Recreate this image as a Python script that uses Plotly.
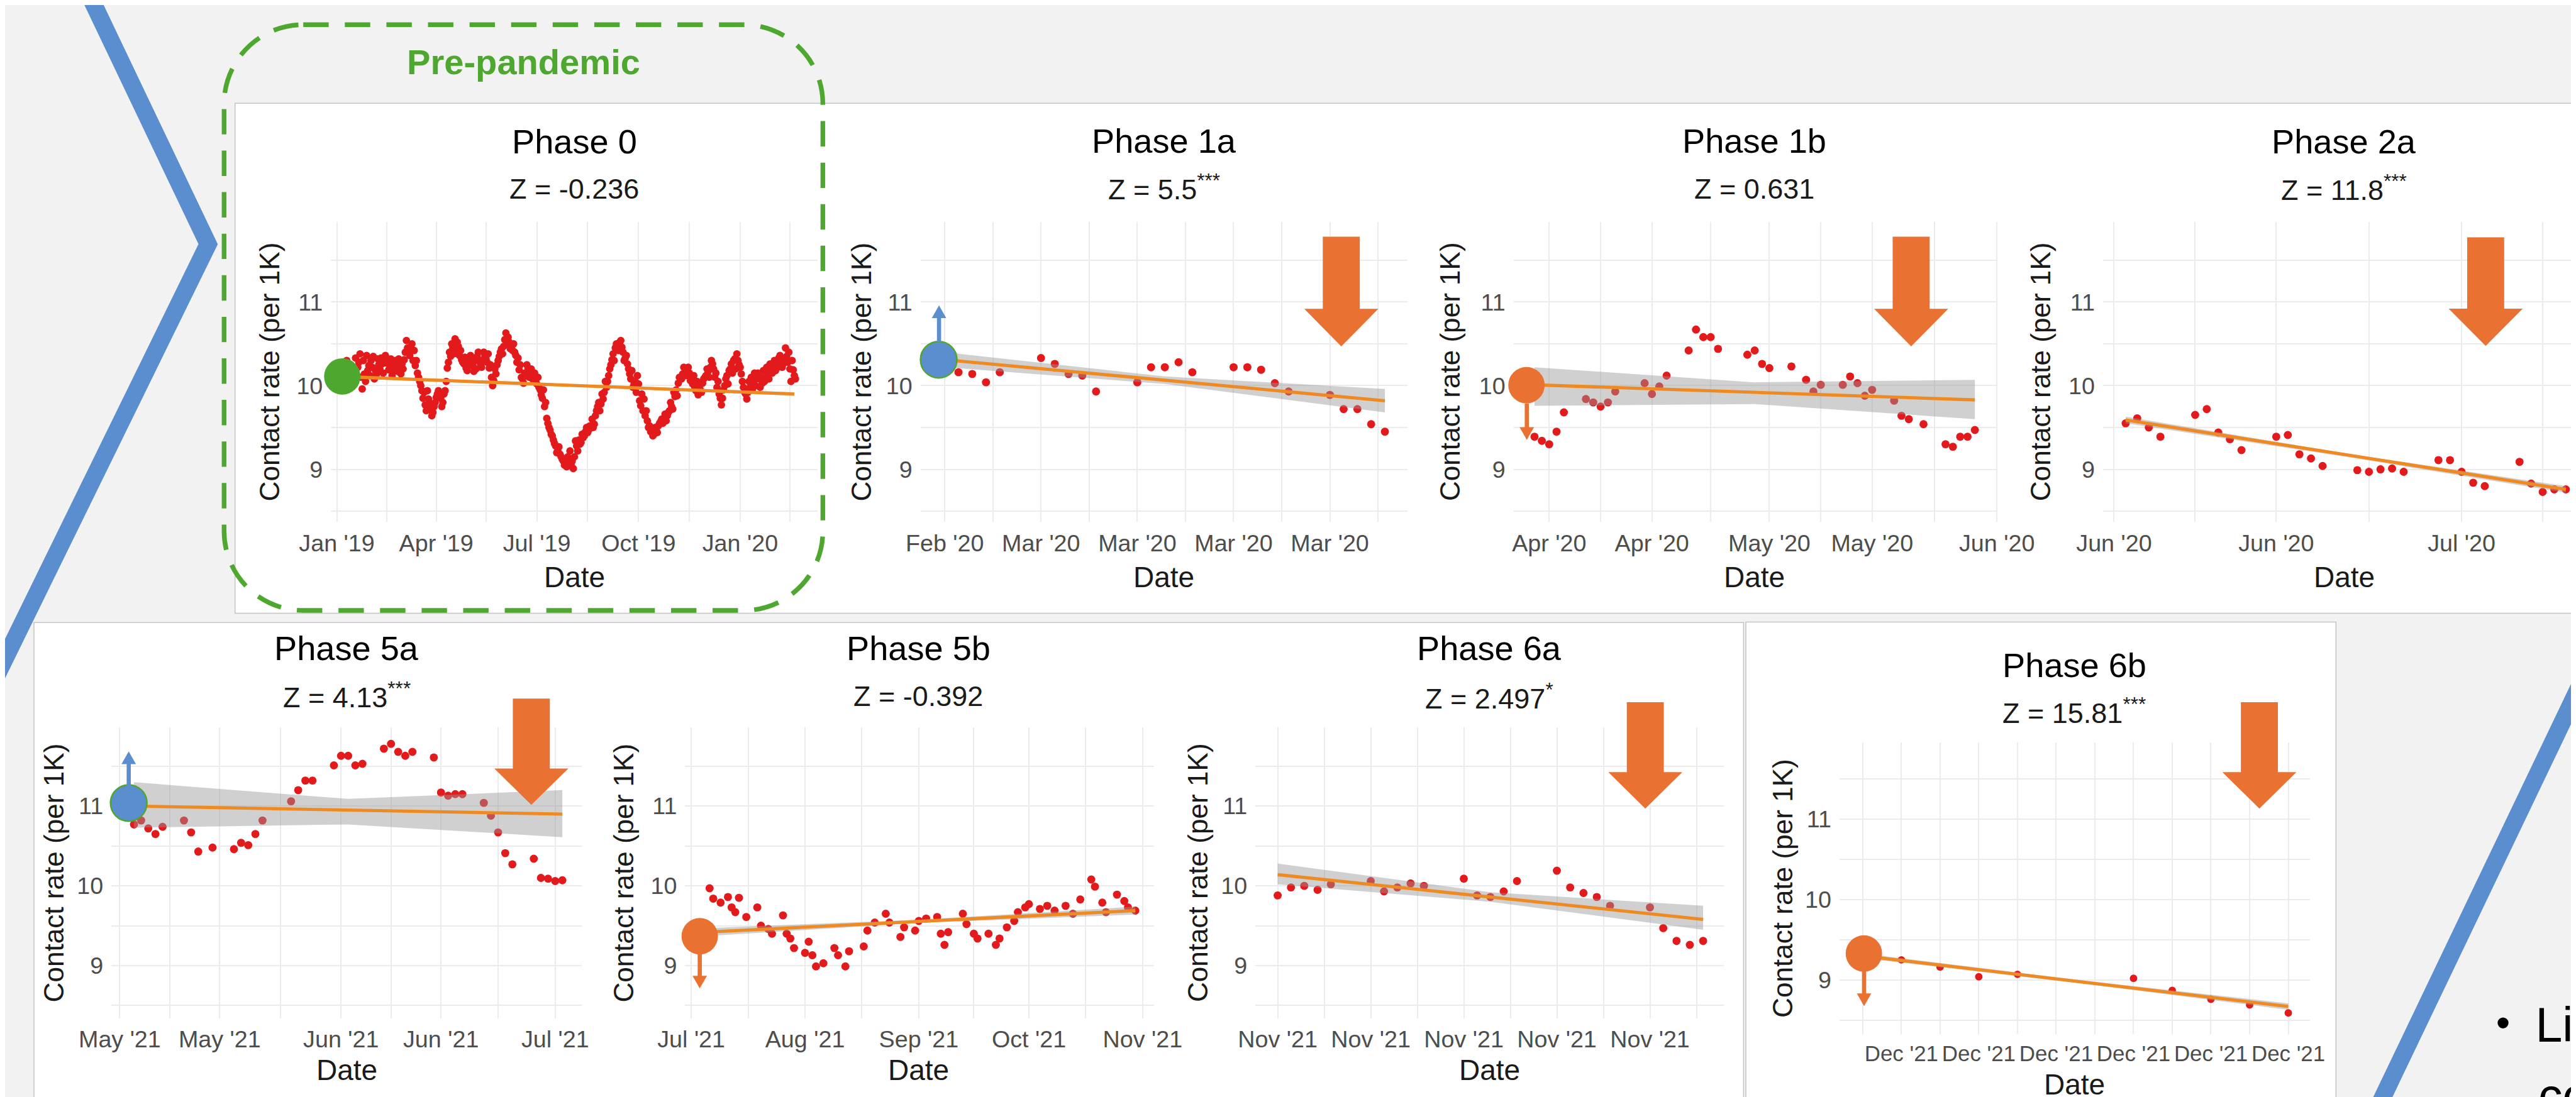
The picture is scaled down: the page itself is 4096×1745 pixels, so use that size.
import pandas as pd
import plotly.graph_objects as go

W_REF, H_REF = 4457.0, 1899.0
S = 4096.0 / W_REF
FONT = "Liberation Sans, Arial, Helvetica, sans-serif"

def X(px): return px / W_REF
def Y(py): return 1.0 - py / H_REF
def F(px): return round(px * S, 1)

RED = "#e31a1c"; FITC = "#ef8a22"; BAND = "rgba(150,150,150,0.45)"
GRID = "#ebebeb"; ORANGE = "#e97132"; BLUE = "#5b8ecf"; GREEN = "#4ea72e"
BG = "#f2f2f2"; TICKC = "#4d4d4d"; TXT = "#1a1a1a"

# ---------------- data (days are offsets from each phase's start date) ----------------
p0_start = "2019-01-01"
p0_days = [2, 4, 5, 7, 9, 11, 14, 17, 19, 21, 23, 25, 27, 29, 31, 34, 36, 38, 40, 43, 45, 47, 50, 52, 54, 57,
           59, 61, 63, 65, 67, 70, 71, 73, 75, 77, 80, 82, 84, 86, 89, 92, 94, 96, 98, 100, 103, 105, 107, 110,
           113, 115, 117, 120, 122, 124, 127, 130, 132, 134, 136, 138, 141, 144, 146, 148, 151, 153, 156, 158,
           161, 163, 164, 165, 167, 169, 171, 173, 175, 178, 180, 182, 185, 187, 189, 190, 193, 195, 197, 199,
           201, 203, 205, 206, 208, 210, 211, 212, 214, 216, 218, 220, 223, 225, 228, 230, 233, 236, 238, 241,
           244, 246, 249, 252, 254, 257, 259, 261, 263, 265, 268, 270, 272, 274, 276, 278, 279, 281, 283, 286,
           289, 291, 293, 296, 299, 301, 303, 306, 309, 311, 313, 315, 317, 319, 321, 324, 327, 329, 331, 333,
           336, 338, 340, 343, 345, 348, 350, 352, 355, 357, 360, 362, 364, 366, 368, 371, 374, 377, 380, 382,
           385, 388, 390, 393, 395, 398, 400, 402, 404, 407, 409, 411, 413, 415,
           16, 18, 20, 22, 24, 26, 28, 30, 32, 33, 35, 37, 39, 41, 42, 44, 46, 48, 49, 51, 53, 55, 56, 58, 60,
           62, 64, 66, 68, 69, 72, 74, 76, 78, 79, 81, 83, 85, 87, 88, 90, 91, 93, 95, 97, 99, 101, 102, 104,
           106, 108, 109, 111, 112, 114, 116, 118, 119, 121, 123, 125, 126, 128, 129, 131, 133, 135, 137, 139,
           140, 142, 143, 145, 147, 149, 150, 152, 154, 155, 157, 159, 160, 162, 166, 168, 170, 172, 174, 176,
           177, 179, 181, 183, 184, 186, 188, 191, 192, 194, 196, 198, 200, 202, 204, 207, 209, 213, 215, 217,
           219, 221, 222, 224, 226, 227, 229, 231, 232, 234, 235, 237, 239, 240, 242, 243, 245, 247, 248, 250,
           251, 253, 255, 256, 258, 260, 262, 264, 266, 267, 269, 271, 273, 275, 277, 280, 282, 284, 285, 287,
           288, 290, 292, 294, 295, 297, 298, 300, 302, 304, 305, 307, 308, 310, 312, 314, 316, 318, 320, 322,
           323, 325, 326, 328, 330, 332, 334, 335, 337, 339, 341, 342, 344, 346, 347, 349, 351, 353, 354, 356,
           358, 359, 361, 363, 365, 367, 369, 370, 372, 373, 375, 376, 378, 379, 381, 383, 384, 386, 387, 389,
           391, 392, 394, 396, 397, 399, 401, 403, 405, 406, 408, 410, 412, 414]
p0_vals = [10.15, 10.25, 10.28, 10.05, 10.30, 10.20, 10.10, 10.33, 10.22, 10.38, 9.96, 10.14, 10.36, 10.24,
           10.30, 10.08, 10.14, 10.25, 10.33, 10.33, 10.27, 10.19, 10.12, 10.18, 10.24, 10.21, 10.26, 10.31,
           10.54, 10.40, 10.47, 10.42, 10.24, 10.15, 10.05, 9.94, 9.77, 9.94, 9.72, 9.64, 9.80, 9.94, 9.85,
           9.80, 9.94, 10.21, 10.35, 10.45, 10.56, 10.47, 10.31, 10.26, 10.21, 10.31, 10.24, 10.17, 10.35,
           10.26, 10.30, 10.35, 10.28, 10.21, 10.00, 10.14, 10.30, 10.40, 10.47, 10.63, 10.52, 10.47, 10.40,
           10.28, 10.33, 10.19, 10.10, 10.03, 10.12, 10.21, 10.18, 10.14, 10.05, 10.10, 9.89, 9.95, 9.80,
           9.61, 9.47, 9.40, 9.31, 9.20, 9.27, 9.15, 9.10, 9.05, 9.03, 9.12, 9.22, 9.06, 9.01, 9.34, 9.22,
           9.30, 9.38, 9.45, 9.47, 9.50, 9.54, 9.75, 9.70, 9.84, 9.98, 10.12, 10.31, 10.45, 10.48, 10.54,
           10.40, 10.33, 10.26, 10.14, 9.98, 10.05, 10.12, 9.82, 9.90, 9.84, 9.64, 9.58, 9.52, 9.40, 9.47,
           9.52, 9.57, 9.61, 9.64, 9.70, 9.75, 9.87, 10.03, 10.08, 10.14, 10.16, 10.19, 10.15, 10.10, 9.98,
           9.89, 9.95, 10.03, 10.10, 10.17, 10.22, 10.26, 10.15, 10.05, 9.77, 9.95, 10.08, 10.18, 10.26,
           10.32, 10.38, 10.25, 10.14, 9.98, 9.84, 9.98, 10.05, 10.12, 10.08, 10.03, 10.10, 10.14, 10.20,
           10.24, 10.28, 10.33, 10.30, 10.26, 10.35, 10.40, 10.05, 10.19, 10.08,
           10.20, 10.12, 10.28, 10.10, 10.30, 10.05, 10.18, 10.12, 10.22, 10.35, 10.18, 10.32, 10.20, 10.26,
           10.15, 10.36, 10.30, 10.24, 10.32, 10.26, 10.30, 10.17, 10.32, 10.14, 10.20, 10.40, 10.45, 10.36,
           10.50, 10.30, 10.30, 10.10, 10.00, 9.85, 9.92, 9.70, 9.84, 9.78, 9.68, 9.75, 9.86, 9.90, 9.88,
           9.75, 9.90, 10.05, 10.28, 10.40, 10.50, 10.38, 10.44, 10.52, 10.36, 10.42, 10.28, 10.34, 10.18,
           10.27, 10.36, 10.25, 10.30, 10.20, 10.40, 10.30, 10.22, 10.40, 10.32, 10.38, 10.25, 10.10, 10.06,
           10.20, 10.25, 10.35, 10.44, 10.38, 10.55, 10.50, 10.58, 10.44, 10.42, 10.50, 10.36, 10.25, 10.08,
           10.15, 10.25, 10.10, 10.20, 10.08, 10.15, 10.02, 9.98, 9.95, 9.85, 9.75, 9.55, 9.50, 9.42, 9.35,
           9.28, 9.22, 9.18, 9.12, 9.08, 9.15, 9.10, 9.15, 9.28, 9.35, 9.32, 9.42, 9.40, 9.50, 9.44, 9.52,
           9.60, 9.50, 9.64, 9.70, 9.80, 9.78, 9.90, 9.92, 10.05, 10.05, 10.20, 10.25, 10.38, 10.30, 10.50,
           10.42, 10.52, 10.46, 10.30, 10.36, 10.20, 10.08, 10.18, 10.02, 9.92, 10.02, 9.76, 9.70, 9.70, 9.50,
           9.45, 9.48, 9.42, 9.50, 9.44, 9.55, 9.60, 9.55, 9.66, 9.58, 9.68, 9.80, 9.72, 9.92, 9.95, 9.88,
           10.10, 10.08, 10.22, 10.12, 10.22, 10.06, 10.02, 10.12, 9.94, 10.05, 9.98, 9.92, 10.08, 10.12,
           10.20, 10.10, 10.30, 10.20, 10.10, 9.98, 9.90, 9.85, 9.85, 10.00, 10.12, 10.02, 10.20, 10.15,
           10.30, 10.20, 10.30, 10.22, 10.05, 9.92, 9.90, 9.92, 10.05, 10.10, 9.95, 10.15, 10.00, 10.15, 9.98,
           10.10, 10.18, 10.05, 10.22, 10.08, 10.26, 10.15, 10.30, 10.18, 10.22, 10.36, 10.22, 10.30, 10.45,
           10.28, 10.20, 10.30, 10.12]
p0_fit_days = [3, 414]
p0_fit_vals = [10.11, 9.90]
p0_band_days = [3, 209, 414]
p0_band_lo = [10.09, 9.99, 9.88]
p0_band_hi = [10.13, 10.02, 9.92]
p0_ticks = ["2019-01-01", "2019-04-01", "2019-07-01", "2019-10-01", "2020-01-01"]
p0_ticktext = ["Jan '19", "Apr '19", "Jul '19", "Oct '19", "Jan '20"]
p0_minor = ["2019-02-15", "2019-05-16", "2019-08-16", "2019-11-16", "2020-02-15"]

p1a_start = "2020-02-24"
p1a_days = [0, 1, 2, 3, 4, 7, 8, 9, 10, 11, 14, 15, 16, 17, 18, 21, 22, 23, 24, 25, 28, 29, 30, 31, 32]
p1a_vals = [10.30, 10.16, 10.14, 10.04, 10.16, 10.33, 10.26, 10.14, 10.12, 9.93, 10.04, 10.22, 10.22, 10.28,
            10.16, 10.22, 10.22, 10.19, 10.03, 9.93, 9.89, 9.72, 9.72, 9.54, 9.45]
p1a_fit_days = [0, 32]
p1a_fit_vals = [10.31, 9.82]
p1a_band_days = [0, 16, 32]
p1a_band_lo = [10.22, 10.02, 9.68]
p1a_band_hi = [10.40, 10.11, 9.96]
p1a_ticks = ["2020-02-24", "2020-03-02", "2020-03-09", "2020-03-16", "2020-03-23"]
p1a_ticktext = ["Feb '20", "Mar '20", "Mar '20", "Mar '20", "Mar '20"]
p1a_minor = ["2020-02-27 12:00", "2020-03-05 12:00", "2020-03-12 12:00", "2020-03-19 12:00", "2020-03-26 12:00"]

p1b_start = "2020-04-01"
p1b_days = [-2, -1, 0, 1, 2, 5, 6, 7, 8, 9, 13, 14, 15, 16, 19, 20, 21, 22, 23, 27, 28, 29, 30, 33, 35, 36, 37,
            40, 41, 42, 43, 44, 47, 48, 49, 51, 54, 55, 56, 57, 58]
p1b_vals = [9.39, 9.34, 9.30, 9.45, 9.68, 9.84, 9.80, 9.75, 9.80, 9.93, 10.03, 9.90, 9.99, 10.12, 10.42, 10.67,
            10.58, 10.58, 10.44, 10.37, 10.42, 10.26, 10.21, 10.23, 10.07, 9.93, 10.01, 10.01, 10.11, 10.03,
            9.88, 9.95, 9.82, 9.64, 9.60, 9.54, 9.30, 9.27, 9.39, 9.39, 9.47]
p1b_fit_days = [-2, 58]
p1b_fit_vals = [10.01, 9.83]
p1b_band_days = [-2, 28, 58]
p1b_band_lo = [9.76, 9.78, 9.60]
p1b_band_hi = [10.22, 10.04, 10.07]
p1b_ticks = ["2020-04-01", "2020-04-15", "2020-05-01", "2020-05-15", "2020-06-01"]
p1b_ticktext = ["Apr '20", "Apr '20", "May '20", "May '20", "Jun '20"]
p1b_minor = ["2020-04-08", "2020-04-23", "2020-05-08", "2020-05-23 12:00"]

p2a_start = "2020-06-01"
p2a_days = [1, 2, 3, 4, 7, 8, 9, 10, 11, 14, 15, 16, 17, 18, 21, 22, 23, 24, 25, 28, 29, 30, 31, 32, 35, 36,
            37, 38, 39]
p2a_vals = [9.55, 9.61, 9.50, 9.39, 9.65, 9.72, 9.44, 9.36, 9.23, 9.39, 9.41, 9.18, 9.13, 9.04, 8.99, 8.97,
            9.00, 9.01, 8.97, 9.11, 9.11, 8.97, 8.84, 8.80, 9.09, 8.83, 8.73, 8.76, 8.76]
p2a_fit_days = [1, 39]
p2a_fit_vals = [9.59, 8.76]
p2a_band_days = [1, 20, 39]
p2a_band_lo = [9.55, 9.15, 8.72]
p2a_band_hi = [9.63, 9.19, 8.80]
p2a_ticks = ["2020-06-01", "2020-06-15", "2020-07-01"]
p2a_ticktext = ["Jun '20", "Jun '20", "Jul '20"]
p2a_minor = ["2020-06-08", "2020-06-23", "2020-07-08"]

p5a_start = "2021-05-01"
p5a_days = [2, 3, 4, 5, 6, 9, 10, 11, 13, 16, 17, 18, 19, 20, 24, 25, 26, 27, 30, 31, 32, 33, 34, 37, 38, 39,
            40, 41, 44, 45, 46, 47, 48, 51, 52, 53, 54, 55, 58, 59, 60, 61, 62]
p5a_vals = [10.77, 10.82, 10.72, 10.65, 10.74, 10.82, 10.67, 10.43, 10.48, 10.46, 10.54, 10.51, 10.65, 10.82,
            11.06, 11.20, 11.32, 11.32, 11.51, 11.63, 11.63, 11.51, 11.53, 11.72, 11.78, 11.68, 11.63, 11.68,
            11.61, 11.17, 11.13, 11.15, 11.15, 11.04, 10.88, 10.67, 10.41, 10.27, 10.34, 10.10, 10.09, 10.06,
            10.07]
p5a_fit_days = [2, 62]
p5a_fit_vals = [11.00, 10.90]
p5a_band_days = [2, 32, 62]
p5a_band_lo = [10.73, 10.77, 10.61]
p5a_band_hi = [11.30, 11.09, 11.20]
p5a_ticks = ["2021-05-01", "2021-05-15", "2021-06-01", "2021-06-15", "2021-07-01"]
p5a_ticktext = ["May '21", "May '21", "Jun '21", "Jun '21", "Jul '21"]
p5a_minor = ["2021-05-08", "2021-05-23 12:00", "2021-06-08", "2021-06-23"]

p5b_start = "2021-07-01"
p5b_days = [5, 6, 8, 10, 11, 12, 13, 15, 18, 19, 21, 22, 25, 26, 27, 28, 31, 32, 33, 34, 36, 39, 40, 42, 43,
            47, 48, 50, 53, 54, 57, 58, 61, 62, 64, 67, 68, 69, 70, 74, 75, 77, 78, 81, 83, 84, 86, 88, 89, 91,
            92, 95, 97, 99, 102, 104, 106, 109, 110, 112, 113, 116, 118, 119, 121]
p5b_vals = [9.97, 9.84, 9.79, 9.86, 9.73, 9.67, 9.85, 9.61, 9.73, 9.50, 9.46, 9.40, 9.63, 9.40, 9.34, 9.22,
            9.16, 9.30, 9.13, 8.99, 9.03, 9.22, 9.13, 8.99, 9.18, 9.24, 9.44, 9.54, 9.65, 9.54, 9.36, 9.48,
            9.44, 9.56, 9.59, 9.61, 9.40, 9.26, 9.42, 9.65, 9.52, 9.40, 9.34, 9.40, 9.26, 9.34, 9.48, 9.56,
            9.67, 9.73, 9.77, 9.71, 9.75, 9.69, 9.75, 9.65, 9.83, 10.08, 9.99, 9.79, 9.67, 9.89, 9.81, 9.73,
            9.69]
p5b_fit_days = [4, 121]
p5b_fit_vals = [9.42, 9.69]
p5b_band_days = [4, 62, 121]
p5b_band_lo = [9.37, 9.535, 9.64]
p5b_band_hi = [9.47, 9.575, 9.74]
p5b_ticks = ["2021-07-01", "2021-08-01", "2021-09-01", "2021-10-01", "2021-11-01"]
p5b_ticktext = ["Jul '21", "Aug '21", "Sep '21", "Oct '21", "Nov '21"]
p5b_minor = ["2021-07-16 12:00", "2021-08-16 12:00", "2021-09-16", "2021-10-16 12:00"]

p6a_start = "2021-11-01"
p6a_days = [0, 1, 2, 3, 4, 7, 8, 9, 10, 11, 14, 15, 16, 17, 18, 21, 22, 23, 24, 25, 28, 29, 30, 31, 32]
p6a_vals = [9.88, 9.98, 10.00, 9.95, 10.02, 10.06, 9.93, 9.98, 10.03, 10.00, 10.09, 9.88, 9.86, 9.93, 10.06,
            10.19, 9.98, 9.91, 9.86, 9.75, 9.73, 9.47, 9.31, 9.26, 9.31]
p6a_fit_days = [0, 32]
p6a_fit_vals = [10.14, 9.58]
p6a_band_days = [0, 16, 32]
p6a_band_lo = [10.02, 9.80, 9.45]
p6a_band_hi = [10.28, 9.92, 9.75]
p6a_ticks = ["2021-11-01", "2021-11-08", "2021-11-15", "2021-11-22", "2021-11-29"]
p6a_ticktext = ["Nov '21"] * 5
p6a_minor = ["2021-11-04 12:00", "2021-11-11 12:00", "2021-11-18 12:00", "2021-11-25 12:00", "2021-12-02 12:00"]

p6b_start = "2021-12-07"
p6b_days = [-1, 0, 1, 2, 3, 6, 7, 8, 9, 10]
p6b_vals = [9.29, 9.25, 9.16, 9.04, 9.07, 9.02, 8.87, 8.76, 8.69, 8.59]
p6b_fit_days = [-1, 10]
p6b_fit_vals = [9.30, 8.67]
p6b_band_days = [-1, 4.5, 10]
p6b_band_lo = [9.27, 8.965, 8.63]
p6b_band_hi = [9.33, 9.005, 8.71]
p6b_ticks = ["2021-12-07", "2021-12-09", "2021-12-11", "2021-12-13", "2021-12-15", "2021-12-17"]
p6b_ticktext = ["Dec '21"] * 6
p6b_minor = ["2021-12-06", "2021-12-08", "2021-12-10", "2021-12-12", "2021-12-14", "2021-12-16"]

y_ticks = [9, 10, 11]
y_ticktext = ["9", "10", "11"]
y_minor = [8.5, 9.5, 10.5, 11.5]

titles = ["Phase 0", "Phase 1a", "Phase 1b", "Phase 2a", "Phase 5a", "Phase 5b", "Phase 6a", "Phase 6b"]
z_texts = ["Z = -0.236", "Z = 5.5<sup>***</sup>", "Z = 0.631", "Z = 11.8<sup>***</sup>",
           "Z = 4.13<sup>***</sup>", "Z = -0.392", "Z = 2.497<sup>*</sup>", "Z = 15.81<sup>***</sup>"]
slide_texts = ["•", "Lin", "co"]


def to_dates(start, days):
    base = pd.Timestamp(start)
    return [(base + pd.Timedelta(days=float(d))).strftime("%Y-%m-%d %H:%M:%S") for d in days]


def P(name):
    g = globals()
    keys = ["start", "days", "vals", "fit_days", "fit_vals", "band_days", "band_lo", "band_hi",
            "ticks", "ticktext", "minor"]
    return {k: g[f"{name}_{k}"] for k in keys}

# layout geometry (reference pixels): panel box, x-range offsets (days), y-range, text positions
R1 = (8.37, 11.96)
R2 = (8.34, 11.99)
R3 = (8.33, 11.95)
geo = [
    dict(box=(564, 1405.6, 375, 895), xr=(-5.23, 434.9), yr=R1, tx=985, ty=243, zy=325, dy=997, lx=458, ms=13, tf=41),
    dict(box=(1584, 2426, 375, 895), xr=(-1.76, 33.62), yr=R1, tx=2005, ty=242, zy=323, dy=997, lx=1481, ms=14, tf=41),
    dict(box=(2610, 3447.6, 375, 895), xr=(-4.86, 61.1), yr=R1, tx=3027, ty=242, zy=325, dy=997, lx=2500, ms=14, tf=41),
    dict(box=(3630, 4457, 375, 895), xr=(-0.95, 40.31), yr=R1, tx=4047, ty=243, zy=324, dy=997, lx=3522, ms=14, tf=41),
    dict(box=(184, 997.6, 1250, 1754), xr=(-1.17, 64.7), yr=R2, tx=591, ty=1120, zy=1202, dy=1850, lx=84, ms=14, tf=41),
    dict(box=(1176.8, 1987.7, 1250, 1754), xr=(-1.65, 126.05), yr=R2, tx=1580, ty=1120, zy=1204, dy=1850, lx=1070, ms=14, tf=41),
    dict(box=(2163.5, 2973.7, 1250, 1754), xr=(-1.67, 33.55), yr=R2, tx=2568, ty=1120, zy=1204, dy=1850, lx=2063, ms=14, tf=41),
    dict(box=(3174, 3988, 1277, 1781), xr=(-1.6, 10.56), yr=R3, tx=3580, ty=1150, zy=1229, dy=1875, lx=3075, ms=13, tf=38),
]
data = [P("p0"), P("p1a"), P("p1b"), P("p2a"), P("p5a"), P("p5b"), P("p6a"), P("p6b")]
TEXT_DY = -7  # plotly's "middle" anchor sits a little lower than the glyph centre

fig = go.Figure()
axes = {}
anns = []


def ann(text, x, y, size, color=TXT, angle=0, xanchor="center", bold=False):
    anns.append(dict(text=f"<b>{text}</b>" if bold else text, x=X(x), y=Y(y), xref="paper", yref="paper",
                     showarrow=False, xanchor=xanchor, yanchor="middle", textangle=angle,
                     font=dict(family=FONT, size=F(size), color=color)))


for i, (d, g) in enumerate(zip(data, geo), start=1):
    xa = "x" if i == 1 else f"x{i}"
    ya = "y" if i == 1 else f"y{i}"
    xl, xr, yt, yb = g["box"]
    fig.add_trace(go.Scatter(x=to_dates(d["start"], d["days"]), y=d["vals"], mode="markers",
                             marker=dict(color=RED, size=F(g["ms"]), line=dict(width=0)),
                             xaxis=xa, yaxis=ya, hoverinfo="skip", showlegend=False))
    bx = to_dates(d["start"], d["band_days"])
    fig.add_trace(go.Scatter(x=bx + bx[::-1], y=list(d["band_hi"]) + list(d["band_lo"])[::-1],
                             fill="toself", fillcolor=BAND, line=dict(width=0), mode="lines",
                             xaxis=xa, yaxis=ya, hoverinfo="skip", showlegend=False))
    fig.add_trace(go.Scatter(x=to_dates(d["start"], d["fit_days"]), y=d["fit_vals"], mode="lines",
                             line=dict(color=FITC, width=F(5.5)), xaxis=xa, yaxis=ya,
                             hoverinfo="skip", showlegend=False))
    xkey = "xaxis" if i == 1 else f"xaxis{i}"
    ykey = "yaxis" if i == 1 else f"yaxis{i}"
    axes[xkey] = dict(domain=[X(xl), min(1.0, X(xr))], anchor=ya, type="date", automargin=False,
                      range=to_dates(d["start"], g["xr"]), tickmode="array", tickvals=d["ticks"],
                      ticktext=d["ticktext"], tickangle=0, ticks="", showgrid=True, gridcolor=GRID,
                      gridwidth=2.2, zeroline=False, showline=False, ticklabelstandoff=8,
                      tickfont=dict(family=FONT, size=F(g["tf"]), color=TICKC),
                      minor=dict(tickmode="array", tickvals=d["minor"], showgrid=True, gridcolor=GRID,
                                 gridwidth=1.6, ticks=""), fixedrange=True)
    axes[ykey] = dict(domain=[Y(yb), Y(yt)], anchor=xa, range=list(g["yr"]), tickmode="array",
                      automargin=False, tickvals=y_ticks, ticktext=y_ticktext, ticks="", showgrid=True,
                      gridcolor=GRID, gridwidth=2.2, zeroline=False, showline=False, ticklabelstandoff=12,
                      tickfont=dict(family=FONT, size=F(41), color=TICKC),
                      minor=dict(tickmode="array", tickvals=y_minor, showgrid=True, gridcolor=GRID,
                                 gridwidth=1.6, ticks=""), fixedrange=True)
    ann(titles[i - 1], g["tx"], g["ty"] + TEXT_DY, 59, "#000000")
    ann(z_texts[i - 1], g["tx"], g["zy"] + TEXT_DY, 49)
    ann("Date", g["tx"], g["dy"] + TEXT_DY, 50)
    ann("Contact rate (per 1K)", g["lx"], (yt + yb) / 2, 48, angle=-90)

ann("Pre-pandemic", 897, 105 + TEXT_DY, 61, GREEN, bold=True)

# partial slide text at the bottom-right corner, clipped at the window edge like the slide crop
axes["xaxis9"] = dict(domain=[X(4150), 1.0], range=[4150, 4457], visible=False, fixedrange=True,
                      anchor="y9", automargin=False)
axes["yaxis9"] = dict(domain=[0.0, Y(1690)], range=[1899, 1690], visible=False, fixedrange=True,
                      anchor="x9", automargin=False)
fig.add_trace(go.Scatter(x=[4322], y=[1768], text=[slide_texts[0]], mode="text", textposition="middle center",
                         textfont=dict(family=FONT, size=F(70), color="#000000"), xaxis="x9", yaxis="y9",
                         cliponaxis=True, hoverinfo="skip", showlegend=False))
fig.add_trace(go.Scatter(x=[4378, 4383], y=[1773, 1897], text=slide_texts[1:], mode="text",
                         textposition="middle right", textfont=dict(family=FONT, size=F(84), color="#000000"),
                         xaxis="x9", yaxis="y9", cliponaxis=True, hoverinfo="skip", showlegend=False))


def path(points, close=True):
    s = "M " + " L ".join(f"{X(px):.6f},{Y(py):.6f}" for px, py in points)
    return s + (" Z" if close else "")

shapes = []
# blue slide lines (behind everything)
shapes.append(dict(type="path", path=path([(139.7, -30), (351.4, 414), (-15, 1162)], close=False),
                   xref="paper", yref="paper", line=dict(color=BLUE, width=F(30)), layer="below"))
shapes.append(dict(type="path", path=path([(4095.6, 1929), (4480, 1125.8)], close=False),
                   xref="paper", yref="paper", line=dict(color=BLUE, width=F(30)), layer="below"))
# white chart panels
for (x0, x1, y0, y1) in [(398, 4480, 170, 1053), (50, 3008, 1069, 1930), (3012, 4033, 1068, 1930)]:
    shapes.append(dict(type="rect", xref="paper", yref="paper", x0=X(x0), x1=X(x1), y0=Y(y1), y1=Y(y0),
                       fillcolor="#ffffff", line=dict(color="#c4c4c4", width=1.5), layer="below"))

# green dashed rounded box
bx0, bx1, by0, by1, r = 379, 1415, 34, 1048, 137
k = 0.5523 * r
def pt(px, py): return f"{X(px):.6f},{Y(py):.6f}"
rr = (f"M {pt(bx0 + r, by0)} L {pt(bx1 - r, by0)} C {pt(bx1 - r + k, by0)} {pt(bx1, by0 + r - k)} {pt(bx1, by0 + r)} "
      f"L {pt(bx1, by1 - r)} C {pt(bx1, by1 - r + k)} {pt(bx1 - r + k, by1)} {pt(bx1 - r, by1)} "
      f"L {pt(bx0 + r, by1)} C {pt(bx0 + r - k, by1)} {pt(bx0, by1 - r + k)} {pt(bx0, by1 - r)} "
      f"L {pt(bx0, by0 + r)} C {pt(bx0, by0 + r - k)} {pt(bx0 + r - k, by0)} {pt(bx0 + r, by0)} Z")
shapes.append(dict(type="path", path=rr, xref="paper", yref="paper",
                   line=dict(color=GREEN, width=F(8), dash=f"{F(44)}px,{F(28)}px"), layer="above"))

# big orange block arrows: (tip x, top y, tip y)
for tx, ty, tip in [(2312, 401, 591), (3298, 401, 591), (4292, 402, 590),
                    (910.6, 1200.5, 1384.6), (2838, 1207, 1391), (3900.5, 1207, 1391)]:
    sw, hw = 32, 64
    hy = ty + 0.658 * (tip - ty)
    shapes.append(dict(type="path", xref="paper", yref="paper", fillcolor=ORANGE, line=dict(width=0),
                       path=path([(tx - sw, ty), (tx + sw, ty), (tx + sw, hy), (tx + hw, hy), (tx, tip),
                                  (tx - hw, hy), (tx - sw, hy)]), layer="above"))

# start-of-phase markers: (cx, cy, kind)
for cx, cy, kind in [(583.5, 643, "green"), (1615.4, 614, "blue"), (2632.4, 658, "orange"),
                     (214, 1381.4, "blue"), (1202, 1612, "orange"), (3216.2, 1641.8, "orange")]:
    rad = 31.5
    fill = {"green": GREEN, "blue": BLUE, "orange": ORANGE}[kind]
    line = dict(color=GREEN, width=2.5) if kind == "blue" else dict(width=0)
    shapes.append(dict(type="circle", xref="paper", yref="paper", x0=X(cx - rad), x1=X(cx + rad),
                       y0=Y(cy + rad), y1=Y(cy - rad), fillcolor=fill, line=line, layer="above"))

# small direction arrows: (x, from y, to y, colour)
for ax_, y0, y1, col in [(1616, 583, 520, BLUE), (2633, 689.6, 752.8, ORANGE), (214, 1351.6, 1292, BLUE),
                         (1202, 1643, 1702.4, ORANGE), (3216.5, 1672.6, 1733, ORANGE)]:
    sgn = 1 if y1 > y0 else -1
    hb = y1 - sgn * 22
    sw, hw = 3.6, 12.5
    shapes.append(dict(type="path", xref="paper", yref="paper", fillcolor=col, line=dict(width=0),
                       path=path([(ax_ - sw, y0), (ax_ + sw, y0), (ax_ + sw, hb), (ax_ + hw, hb), (ax_, y1),
                                  (ax_ - hw, hb), (ax_ - sw, hb)]), layer="above"))

fig.update_layout(width=4096, height=1745, autosize=False, margin=dict(l=0, r=0, t=0, b=0, pad=0),
                  paper_bgcolor=BG, plot_bgcolor="rgba(0,0,0,0)", showlegend=False, annotations=anns,
                  shapes=shapes, font=dict(family=FONT), **axes)
fig.write_html("out.html")
